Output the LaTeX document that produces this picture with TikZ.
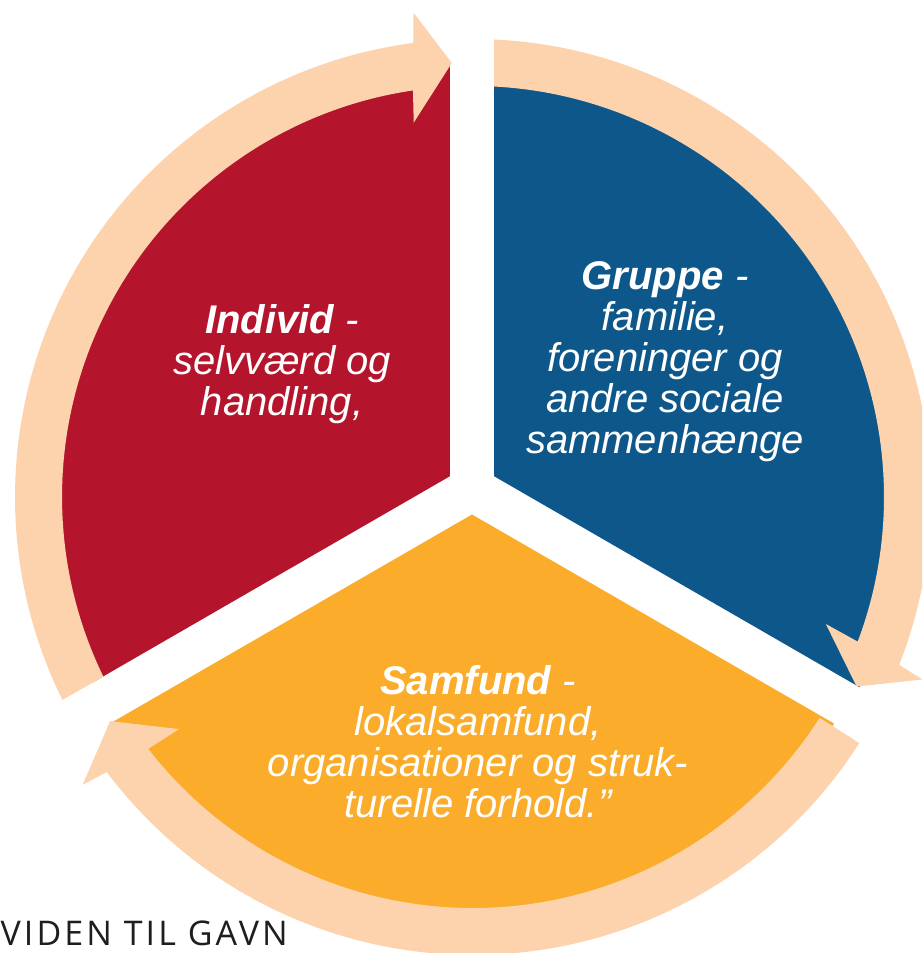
\documentclass[tikz,border=0pt]{standalone}
\usepackage{fontspec}
\setmainfont{Liberation Sans}
\newfontfamily\vfont[LetterSpace=9]{Open Sans}
\definecolor{segred}{RGB}{180,21,45}
\definecolor{segblue}{RGB}{13,87,138}
\definecolor{segorange}{RGB}{250,172,42}
\definecolor{peach}{RGB}{252,211,172}
\definecolor{viden}{RGB}{30,30,30}
\tikzset{
  segtext/.style={text=white, align=center, font=\fontsize{40}{41}\selectfont\itshape, inner sep=0pt},
  arrowband/.style={fill=peach}
}
\begin{document}
\begin{tikzpicture}[x=1pt,y=1pt]
\useasboundingbox (0,0) rectangle (922,953);
\clip (0,0) rectangle (922,953);
% exploded pie sectors (pie centre at 472,464)
\begin{scope}[shift={(472,464)}]
  \fill[segred] (150:25.5) -- ++(90:412) arc[start angle=90,end angle=210,radius=412] -- cycle;
  \fill[segblue] (30:25.5) -- ++(-30:422) arc[start angle=-30,end angle=90,radius=422] -- cycle;
  \fill[segorange] (270:25.5) -- ++(210:418) arc[start angle=210,end angle=330,radius=418] -- cycle;
\end{scope}
% peach circular arrows (ring centre at 473,456)
\begin{scope}[shift={(473,456)}]
  \fill[arrowband] (206.3:458) arc[start angle=206.3,end angle=97.5,radius=458]
    -- (97:488) -- (92.8:434.5) -- (99:379) -- (98.4:411)
    arc[start angle=98.4,end angle=205.9,radius=411] -- cycle;
  \fill[arrowband] (87.37:458) arc[start angle=87.37,end angle=-21.5,radius=458]
    -- (-22.1:485) -- (-26.3:428) -- (-19.8:375) -- (-20.6:411)
    arc[start angle=-20.6,end angle=87.07,radius=411] -- cycle;
  \fill[arrowband] (-32.5:458) arc[start angle=-32.5,end angle=-143.1,radius=458]
    -- (-143.6:485) -- (-148.3:426.5) -- (-141.7:374.5) -- (-142.2:411)
    arc[start angle=-142.2,end angle=-32.5,radius=411] -- cycle;
\end{scope}
% texts
\node[segtext] (individ) at (282,588.5) {\textbf{Individ} -\\selvværd og\\handling,};
\node[segtext] (gruppe) at (665,591) {\textbf{Gruppe} -\\familie,\\foreninger og\\andre sociale\\sammenhænge};
\node[segtext] (samfund) at (478,211) {\textbf{Samfund} -\\lokalsamfund,\\organisationer og struk-\\turelle forhold.”};
\node[anchor=base west, inner sep=0pt, text=viden, font=\vfont\fontsize{34}{36}\selectfont] (viden) at (0.5,8) {VIDEN TIL GAVN};
\end{tikzpicture}
\end{document}
